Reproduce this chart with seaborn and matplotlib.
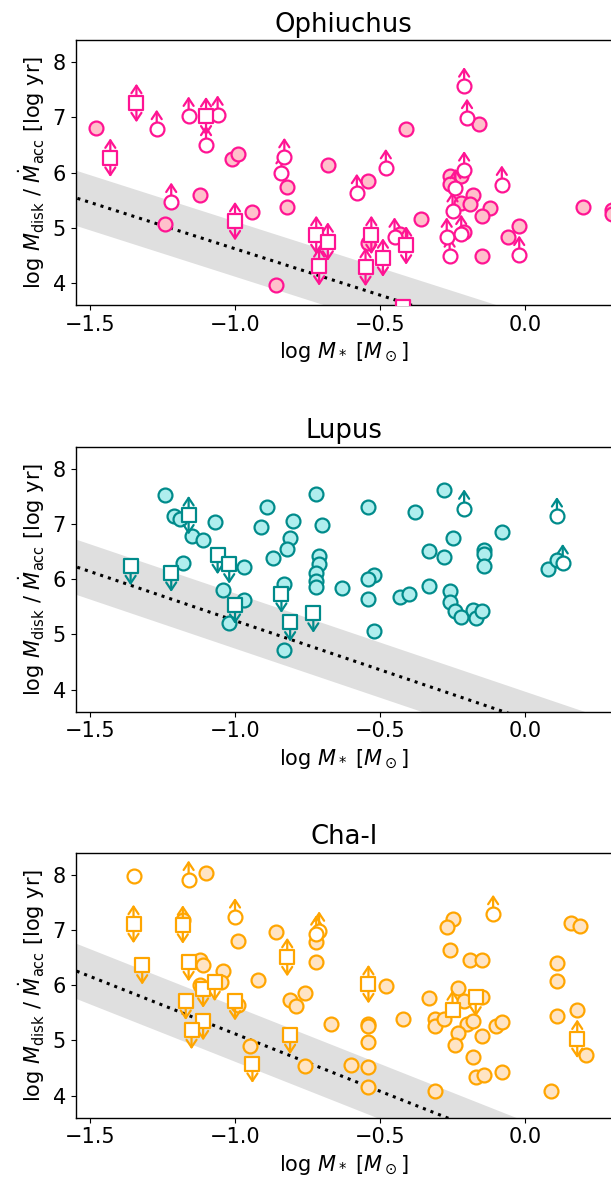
import numpy as np
import pandas as pd
import matplotlib
matplotlib.use("Agg")
import matplotlib.pyplot as plt
import seaborn as sns

# ── Data (log M*, log Mdisk/Macc) ─────────────────────────────────────────
regions = ["Ophiuchus", "Lupus", "Cha-I"]
edge_colors = ["#ff1493", "#008b8b", "#ffa500"]
fill_colors = ["#ffc0cb", "#afeeee", "#ffe4c4"]

# dotted relation and +-0.5 dex band (slope, intercept)
rel_slope = [-1.68, -1.78, -2.08]
rel_icept = [2.94, 3.47, 3.04]
band_half = 0.5

# Ophiuchus
oph_det_x = [-1.48, -1.01, -0.99, -1.12, -1.24, -0.94, -0.82, -0.82, -0.86, -0.68,
             -0.41, -0.16, -0.54, -0.26, -0.22, -0.26, -0.18, -0.22, -0.19, -0.12,
             -0.15, -0.36, -0.43, -0.54, -0.21, -0.02, -0.06, -0.15, 0.20, 0.30, 0.30]
oph_det_y = [6.80, 6.25, 6.33, 5.59, 5.06, 5.28, 5.74, 5.37, 3.97, 6.13,
             6.79, 6.88, 5.84, 5.93, 5.93, 5.80, 5.60, 5.45, 5.43, 5.36,
             5.21, 5.15, 4.89, 4.72, 4.93, 5.03, 4.83, 4.48, 5.38, 5.33, 5.25]
oph_lo_x = [-1.27, -1.16, -1.06, -1.10, -1.22, -0.83, -0.84, -0.21, -0.20, -0.48,
            -0.58, -0.21, -0.24, -0.25, -0.08, -0.27, -0.22, -0.26, -0.02, -0.45]
oph_lo_y = [6.79, 7.03, 7.05, 6.50, 5.47, 6.28, 5.99, 7.56, 6.99, 6.08,
            5.63, 6.04, 5.72, 5.30, 5.78, 4.84, 4.89, 4.48, 4.51, 4.84]
oph_sq_x = [-1.34, -1.43, -1.10, -1.00, -0.72, -0.68, -0.71, -0.53, -0.55, -0.49, -0.41, -0.42]
oph_sq_y = [7.26, 6.27, 7.02, 5.12, 4.87, 4.75, 4.30, 4.87, 4.29, 4.46, 4.68, 3.57]
oph_sq_arrow = ["both", "both", "both", "both", "both", "both", "both",
                "both", "both", "both", "both", "down"]
oph_open_x = []
oph_open_y = []

# Lupus
lup_det_x = [-1.24, -1.21, -1.19, -1.07, -1.15, -1.11, -1.18, -0.89, -0.91, -0.80,
             -0.70, -0.72, -0.81, -0.82, -0.87, -0.71, -0.71, -0.72, -0.72, -0.72,
             -0.97, -1.04, -0.97, -1.02, -0.83, -0.83, -0.63,
             -0.54, -0.38, -0.28, -0.25, -0.08, -0.33, -0.28, -0.14, -0.14, -0.14,
             -0.52, -0.54, -0.54, -0.43, -0.40, -0.33, -0.26, -0.26, -0.24, -0.22,
             -0.18, -0.17, -0.15, -0.52, 0.08, 0.11]
lup_det_y = [7.53, 7.15, 7.09, 7.04, 6.78, 6.72, 6.30, 7.31, 6.95, 7.06,
             6.99, 7.55, 6.75, 6.54, 6.38, 6.42, 6.27, 6.12, 5.97, 5.86,
             6.23, 5.80, 5.62, 5.20, 5.92, 4.72, 5.85,
             7.31, 7.21, 7.61, 6.75, 6.85, 6.51, 6.41, 6.53, 6.45, 6.24,
             6.07, 6.00, 5.65, 5.68, 5.74, 5.88, 5.79, 5.58, 5.43, 5.32,
             5.45, 5.29, 5.43, 5.07, 6.18, 6.35]
lup_lo_x = [-0.21, 0.11, 0.13]
lup_lo_y = [7.28, 7.14, 6.29]
lup_sq_x = [-1.36, -1.22, -1.06, -1.02, -1.00, -0.84, -0.81, -0.73, -1.16]
lup_sq_y = [6.24, 6.12, 6.44, 6.27, 5.54, 5.74, 5.22, 5.38, 7.16]
lup_sq_arrow = ["down", "down", "down", "down", "down", "down", "down", "down", "both"]
lup_open_x = []
lup_open_y = []

# Cha-I
cha_det_x = [-1.10, -1.18, -0.99, -0.86, -0.72, -0.72, -1.12, -1.11, -1.04, -1.05,
             -1.12, -0.92, -0.81, -0.79, -0.76, -0.99, -0.67, -0.95, -0.76, -0.60,
             0.16, 0.19, -0.25, -0.27, -0.26, -0.19, -0.15, 0.11, 0.11, -0.48,
             -0.33, -0.23, -0.21, -0.15, -0.54, -0.54, -0.42, -0.31, -0.31, -0.28,
             -0.20, -0.18, -0.23, -0.24, -0.15, -0.10, -0.08, -0.54, -0.18, -0.17,
             -0.14, -0.08, -0.54, -0.54, -0.31, 0.11, 0.18, 0.21, 0.09]
cha_det_y = [8.04, 7.19, 6.81, 6.96, 6.42, 6.78, 6.46, 6.37, 6.25, 6.06,
             6.01, 6.10, 5.74, 5.62, 5.86, 5.65, 5.30, 4.90, 4.53, 4.55,
             7.12, 7.08, 7.20, 7.05, 6.64, 6.45, 6.46, 6.40, 6.08, 5.98,
             5.77, 5.95, 5.71, 5.78, 5.29, 5.26, 5.38, 5.38, 5.26, 5.39,
             5.30, 5.36, 5.13, 4.91, 5.08, 5.26, 5.34, 4.97, 4.70, 4.34,
             4.38, 4.43, 4.52, 4.15, 4.08, 5.44, 5.55, 4.73, 4.08]
cha_lo_x = [-1.16, -1.00, -0.71, -0.72, -0.11]
cha_lo_y = [7.91, 7.23, 6.99, 6.92, 7.29]
cha_sq_x = [-1.32, -1.16, -1.11, -1.07, -1.17, -1.11, -1.15, -1.00, -0.81, -0.94,
            -0.17, -1.35, -1.18, -0.82, -0.54, 0.18, -0.25]
cha_sq_y = [6.36, 6.42, 5.94, 6.06, 5.72, 5.35, 5.19, 5.71, 5.10, 4.58,
            5.78, 7.11, 7.10, 6.51, 6.02, 5.03, 5.56]
cha_sq_arrow = ["down"] * 11 + ["both", "both", "both", "both", "both", "up"]
cha_open_x = [-1.35]
cha_open_y = [7.97]

det_x = [oph_det_x, lup_det_x, cha_det_x]
det_y = [oph_det_y, lup_det_y, cha_det_y]
lo_x = [oph_lo_x, lup_lo_x, cha_lo_x]
lo_y = [oph_lo_y, lup_lo_y, cha_lo_y]
sq_x = [oph_sq_x, lup_sq_x, cha_sq_x]
sq_y = [oph_sq_y, lup_sq_y, cha_sq_y]
sq_arrow = [oph_sq_arrow, lup_sq_arrow, cha_sq_arrow]
open_x = [oph_open_x, lup_open_x, cha_open_x]
open_y = [oph_open_y, lup_open_y, cha_open_y]

xlim = (-1.55, 0.3)
ylim = (3.6, 8.4)
arrow_len = 0.35

sns.set_style("ticks", {"axes.edgecolor": "black", "text.color": "black",
                        "xtick.color": "black", "ytick.color": "black",
                        "axes.labelcolor": "black"})
plt.rcParams["font.family"] = ["DejaVu Sans"]
plt.rcParams["font.size"] = 15
plt.rcParams["xtick.labelsize"] = 15
plt.rcParams["ytick.labelsize"] = 15
plt.rcParams["axes.linewidth"] = 1.0


def draw_arrow(ax, x, y, dy, color):
    ax.annotate("", xy=(x, y + dy), xytext=(x, y),
                arrowprops=dict(arrowstyle="->,head_length=0.45,head_width=0.3",
                                color=color, lw=1.6, shrinkA=0, shrinkB=0,
                                mutation_scale=12),
                zorder=2.5)


fig = plt.figure(figsize=(6.11, 11.93), dpi=100)
bottoms = [0.7443, 0.4034, 0.0631]

for i, name in enumerate(regions):
    ax = fig.add_axes([0.1236, bottoms[i], 0.8781, 0.2221])
    ec, fc = edge_colors[i], fill_colors[i]

    # relation + band
    xx = np.linspace(xlim[0] - 0.1, xlim[1] + 0.1, 50)
    yy = rel_slope[i] * xx + rel_icept[i]
    ax.fill_between(xx, yy - band_half, yy + band_half, color="gray",
                    alpha=0.25, linewidth=0, zorder=0)
    ax.plot(xx, yy, color="black", ls=":", lw=2.2, zorder=1)

    # detections
    det = pd.DataFrame({"x": det_x[i], "y": det_y[i]})
    sns.scatterplot(data=det, x="x", y="y", ax=ax, marker="o", s=100,
                    color=fc, edgecolor=ec, linewidth=1.6, zorder=2)

    # lower limits (open circles, up arrows)
    lo = pd.DataFrame({"x": lo_x[i], "y": lo_y[i]})
    for x, y in zip(lo["x"], lo["y"]):
        draw_arrow(ax, x, y, arrow_len, ec)
    sns.scatterplot(data=lo, x="x", y="y", ax=ax, marker="o", s=100,
                    color="white", edgecolor=ec, linewidth=1.6, zorder=3)

    if open_x[i]:
        op = pd.DataFrame({"x": open_x[i], "y": open_y[i]})
        sns.scatterplot(data=op, x="x", y="y", ax=ax, marker="o", s=100,
                        color="white", edgecolor=ec, linewidth=1.6, zorder=3)

    # squares with limit arrows
    sq = pd.DataFrame({"x": sq_x[i], "y": sq_y[i], "arrow": sq_arrow[i]})
    for x, y, a in zip(sq["x"], sq["y"], sq["arrow"]):
        if a in ("up", "both"):
            draw_arrow(ax, x, y, arrow_len, ec)
        if a in ("down", "both"):
            draw_arrow(ax, x, y, -arrow_len, ec)
    sns.scatterplot(data=sq, x="x", y="y", ax=ax, marker="s", s=110,
                    color="white", edgecolor=ec, linewidth=1.6, zorder=3)

    ax.set_xlim(*xlim)
    ax.set_ylim(*ylim)
    ax.set_xticks([-1.5, -1.0, -0.5, 0.0])
    ax.set_yticks([4, 5, 6, 7, 8])
    ax.set_title(name, fontsize=18.6)
    ax.set_xlabel(r"log $M_*$ [$M_\odot$]", fontsize=15)
    ax.set_ylabel(r"log $M_\mathrm{disk}$ / $\dot{M}_\mathrm{acc}$ [log yr]", fontsize=15)

fig.savefig("out.png", dpi=100)
